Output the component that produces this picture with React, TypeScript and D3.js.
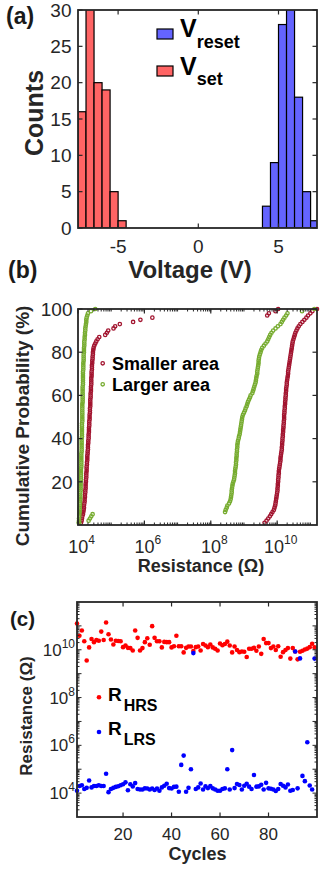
import React from "react";
import * as d3 from "d3";

const FONT = "'Liberation Sans', Arial, Helvetica, sans-serif";
const AXIS = "#262626";

// (a) switching voltage histogram, bin left edges in V, bin width 0.5 V
const setBinStart = [-7.5, -7, -6.5, -6, -5.5, -5];
const setCounts = [16, 40, 20, 19, 5, 1];
const resetBinStart = [4, 4.5, 5, 5.5, 6, 6.5, 7];
const resetCounts = [3, 9, 28, 35, 18, 5, 1];
const binWidth = 0.5;
const voltTicks = [-5, 0, 5];
const countTicks = [0, 5, 10, 15, 20, 25, 30];

// (b) cumulative distributions, sorted log10(R / ohm)
const smallerLRS = [
  4.09, 4.11, 4.12, 4.13, 4.15, 4.16, 4.17, 4.18, 4.18, 4.19,
  4.2, 4.2, 4.21, 4.21, 4.22, 4.22, 4.23, 4.23, 4.23, 4.24,
  4.24, 4.25, 4.25, 4.25, 4.26, 4.26, 4.26, 4.27, 4.27, 4.28,
  4.28, 4.28, 4.29, 4.29, 4.3, 4.3, 4.3, 4.31, 4.31, 4.32,
  4.32, 4.32, 4.33, 4.33, 4.33, 4.34, 4.34, 4.34, 4.35, 4.35,
  4.35, 4.36, 4.36, 4.36, 4.37, 4.37, 4.37, 4.37, 4.38, 4.38,
  4.38, 4.39, 4.39, 4.39, 4.4, 4.4, 4.4, 4.4, 4.41, 4.41,
  4.41, 4.42, 4.42, 4.42, 4.43, 4.43, 4.44, 4.44, 4.45, 4.45,
  4.46, 4.47, 4.49, 4.52, 4.55, 4.59, 4.64, 4.82, 4.87, 4.91,
  5.07, 5.12, 5.26, 5.66, 5.88, 6.24, 9.7, 9.75, 9.95, 10.03,
];
const smallerHRS = [
  9.62, 9.68, 9.73, 9.78, 9.82, 9.86, 9.9, 9.92, 9.94, 9.95,
  9.96, 9.97, 9.98, 9.99, 10.0, 10.01, 10.01, 10.02, 10.02, 10.03,
  10.03, 10.04, 10.04, 10.05, 10.05, 10.06, 10.07, 10.08, 10.09, 10.1,
  10.1, 10.11, 10.12, 10.13, 10.14, 10.14, 10.15, 10.15, 10.16, 10.16,
  10.17, 10.17, 10.18, 10.18, 10.19, 10.19, 10.2, 10.2, 10.21, 10.21,
  10.21, 10.22, 10.22, 10.23, 10.23, 10.24, 10.24, 10.25, 10.25, 10.26,
  10.26, 10.27, 10.27, 10.28, 10.29, 10.29, 10.3, 10.31, 10.32, 10.33,
  10.33, 10.34, 10.35, 10.36, 10.37, 10.38, 10.39, 10.4, 10.41, 10.42,
  10.43, 10.44, 10.45, 10.46, 10.47, 10.49, 10.51, 10.53, 10.55, 10.58,
  10.61, 10.65, 10.7, 10.76, 10.82, 10.88, 10.93, 11.0, 11.06, 11.2,
];
const largerLRS = [
  4.02, 4.03, 4.03, 4.04, 4.04, 4.05, 4.05, 4.05, 4.06, 4.06,
  4.06, 4.07, 4.07, 4.07, 4.07, 4.08, 4.08, 4.08, 4.08, 4.08,
  4.09, 4.09, 4.09, 4.09, 4.09, 4.09, 4.1, 4.1, 4.1, 4.1,
  4.1, 4.1, 4.1, 4.11, 4.11, 4.11, 4.11, 4.11, 4.11, 4.11,
  4.12, 4.12, 4.12, 4.12, 4.12, 4.12, 4.12, 4.13, 4.13, 4.13,
  4.13, 4.13, 4.13, 4.13, 4.13, 4.13, 4.14, 4.14, 4.14, 4.14,
  4.14, 4.14, 4.14, 4.14, 4.15, 4.15, 4.15, 4.15, 4.15, 4.15,
  4.15, 4.16, 4.16, 4.16, 4.16, 4.17, 4.17, 4.17, 4.17, 4.18,
  4.18, 4.18, 4.19, 4.19, 4.19, 4.2, 4.2, 4.21, 4.21, 4.22,
  4.22, 4.23, 4.24, 4.25, 4.25, 4.26, 4.28, 4.3, 4.39, 4.52,
];
const largerHRS = [
  4.04, 4.32, 4.36, 4.4, 4.44, 8.43, 8.45, 8.48, 8.5, 8.55,
  8.58, 8.6, 8.61, 8.62, 8.63, 8.63, 8.64, 8.65, 8.66, 8.68,
  8.7, 8.71, 8.72, 8.73, 8.73, 8.74, 8.75, 8.76, 8.76, 8.77,
  8.77, 8.78, 8.78, 8.79, 8.79, 8.8, 8.8, 8.81, 8.82, 8.84,
  8.85, 8.87, 8.88, 8.89, 8.9, 8.91, 8.92, 8.93, 8.94, 8.95,
  8.97, 9.0, 9.03, 9.05, 9.08, 9.1, 9.12, 9.15, 9.18, 9.2,
  9.25, 9.27, 9.29, 9.31, 9.33, 9.35, 9.36, 9.37, 9.38, 9.4,
  9.4, 9.41, 9.42, 9.43, 9.44, 9.44, 9.45, 9.46, 9.48, 9.5,
  9.52, 9.55, 9.6, 9.65, 9.7, 9.73, 9.76, 9.79, 9.83, 9.88,
  9.95, 10.02, 10.1, 10.14, 10.18, 10.22, 10.27, 10.31, 10.75, 11.12,
];
const probTicks = [20, 40, 60, 80, 100];
const resTickExp = [4, 6, 8, 10];

// (c) endurance, log10(R / ohm) per cycle starting at cycle 1
const hrsLog = [
  11.1, 10.59, 10.81, 10.36, 9.55, 10.1, 10.45, 10.32, 10.41, 10.38,
  10.76, 10.41, 11.14, 10.65, 10.43, 10.22, 10.38, 10.37, 10.36, 10.11,
  10.18, 10.08, 10.07, 9.97, 10.81, 10.5, 9.97, 10.07, 10.32, 10.48,
  10.21, 10.99, 10.5, 10.36, 10.36, 10.1, 10.33, 10.32, 10.32, 10.1,
  10.15, 10.59, 10.15, 10.15, 9.89, 10.08, 10.14, 10.14, 9.95, 10.11,
  10.14, 9.97, 10.24, 10.18, 10.11, 10.22, 10.1, 10.04, 9.97, 10.26,
  10.19, 10.24, 10.34, 10.18, 9.89, 10.14, 9.99, 9.9, 9.93, 9.92,
  9.7, 10.04, 10.04, 10.08, 9.96, 10.14, 9.83, 10.45, 10.28, 10.28,
  10.07, 10.14, 9.99, 10.15, 9.71, 9.9, 9.99, 10.07, 9.63, 10.07,
  9.93, 9.6, 9.92, 9.96, 10.01, 10.05, 10.11, 10.25, 10.1,
];
const lrsLog = [
  4.1, 4.3, 4.33, 4.17, 4.22, 4.53, 4.24, 4.3, 4.3, 4.33,
  4.3, 4.3, 4.81, 4.04, 4.17, 4.22, 4.26, 4.29, 4.33, 4.37,
  4.45, 4.12, 4.37, 4.28, 4.42, 4.17, 4.15, 4.15, 4.2, 4.19,
  4.15, 4.19, 4.13, 4.19, 4.1, 4.24, 4.31, 4.39, 4.21, 4.19,
  4.26, 4.27, 4.06, 5.18, 5.57, 4.06, 4.22, 5.0, 9.86, 4.17,
  4.24, 4.4, 4.15, 4.28, 4.21, 4.3, 4.2, 4.15, 4.1, 4.1,
  4.17, 4.2, 5.0, 4.15, 5.8, 4.21, 4.38, 4.34, 4.15, 4.31,
  4.39, 4.27, 4.17, 4.76, 4.27, 4.28, 4.35, 4.15, 4.43, 4.2,
  4.18, 4.15, 4.09, 4.17, 4.38, 4.31, 4.24, 4.36, 4.1, 4.13,
  9.93, 4.2, 9.64, 4.72, 4.5, 6.13, 4.32, 4.15, 9.63,
];
const cycleTicks = [20, 40, 60, 80];
const endTickExp = [4, 6, 8, 10];

function minorLog(lo: number, hi: number) {
  const out: number[] = [];
  for (let e = Math.floor(Math.log10(lo)); e <= Math.ceil(Math.log10(hi)); e++) {
    for (let k = 1; k <= 9; k++) {
      const v = k * Math.pow(10, e);
      if (v > lo * 1.0001 && v < hi * 0.9999) out.push(v);
    }
  }
  return out;
}

function Frame({ x0, x1, y0, y1 }: { x0: number; x1: number; y0: number; y1: number }) {
  return <rect x={x0} y={y0} width={x1 - x0} height={y1 - y0} fill="none" stroke={AXIS} strokeWidth={1.8} />;
}

function PanelA() {
  const x = d3.scaleLinear().domain([-7.5, 7.4]).range([78, 317]);
  const y = d3.scaleLinear().domain([0, 30]).range([228, 10]);
  const [x0, x1] = x.range();
  const [y1, y0] = y.range();
  const bar = (start: number, count: number, fill: string, key: string) => (
    <rect key={key} x={x(start)} y={y(count)} width={x(start + binWidth) - x(start)} height={y(0) - y(count)}
      fill={fill} stroke="#000" strokeWidth={1.2} />
  );
  return (
    <g>
      <clipPath id="clipA"><rect x={x0} y={y0} width={x1 - x0} height={y1 - y0} /></clipPath>
      <g clipPath="url(#clipA)">
        {setBinStart.map((s, i) => bar(s, setCounts[i], "#ff6464", "s" + i))}
        {resetBinStart.map((s, i) => bar(s, resetCounts[i], "#6464ff", "r" + i))}
      </g>
      <Frame x0={x0} x1={x1} y0={y0} y1={y1} />
      {voltTicks.map((t) => (
        <g key={t}>
          <line x1={x(t)} x2={x(t)} y1={y1} y2={y1 - 4.5} stroke={AXIS} strokeWidth={1.2} />
          <line x1={x(t)} x2={x(t)} y1={y0} y2={y0 + 4.5} stroke={AXIS} strokeWidth={1.2} />
          <text x={x(t)} y={253} textAnchor="middle" fontSize={19} fill={AXIS}>{t}</text>
        </g>
      ))}
      {countTicks.map((t) => (
        <g key={t}>
          <line x1={x0} x2={x0 + 4.5} y1={y(t)} y2={y(t)} stroke={AXIS} strokeWidth={1.2} />
          <line x1={x1} x2={x1 - 4.5} y1={y(t)} y2={y(t)} stroke={AXIS} strokeWidth={1.2} />
          <text x={71.5} y={y(t) + 6.8} textAnchor="end" fontSize={19} fill={AXIS}>{t}</text>
        </g>
      ))}
      <text x={43} y={113} transform="rotate(-90 43 113)" textAnchor="middle" fontSize={25} fontWeight="bold" fill={AXIS}>Counts</text>
      <text x={190} y={278} textAnchor="middle" fontSize={24} fontWeight="bold" fill={AXIS}>Voltage (V)</text>
      <text x={6} y={24} fontSize={23} fontWeight="bold" fill="#1a1a1a">(a)</text>
      {/* legend */}
      <rect x={157} y={29} width={16} height={10} fill="#6464ff" stroke="#000" strokeWidth={1.2} />
      <text x={180} y={37} fontSize={25} fontWeight="bold" fill="#000">V<tspan fontSize={18} dy={10.5}>reset</tspan></text>
      <rect x={157} y={66} width={16} height={10} fill="#ff6464" stroke="#000" strokeWidth={1.2} />
      <text x={180} y={75} fontSize={25} fontWeight="bold" fill="#000">V<tspan fontSize={18} dy={9.5}>set</tspan></text>
    </g>
  );
}

function PanelB() {
  const x = d3.scaleLog().domain([1e4, Math.pow(10, 11.2)]).range([78, 317]);
  const y = d3.scaleLinear().domain([0, 100]).range([525, 309]);
  const [x0, x1] = x.range();
  const [y1, y0] = y.range();
  const cdf = (arr: number[]) => arr.map((v, i) => ({ r: Math.pow(10, v), p: ((i + 1) / arr.length) * 100 }));
  const series = [
    { data: cdf(smallerLRS), color: "#A2142F" },
    { data: cdf(smallerHRS), color: "#A2142F" },
    { data: cdf(largerLRS), color: "#77AC30" },
    { data: cdf(largerHRS), color: "#77AC30" },
  ];
  const minors = minorLog(x.domain()[0], x.domain()[1]);
  return (
    <g>
      {series.map((s, si) => (
        <g key={si}>
          {s.data.map((d, i) => (
            <circle key={i} cx={x(d.r)} cy={y(d.p)} r={1.7} fill="none" stroke={s.color} strokeWidth={1.3} />
          ))}
        </g>
      ))}
      <Frame x0={x0} x1={x1} y0={y0} y1={y1} />
      {minors.map((v, i) => (
        <g key={i}>
          <line x1={x(v)} x2={x(v)} y1={y1} y2={y1 - 2.5} stroke={AXIS} strokeWidth={1} />
          <line x1={x(v)} x2={x(v)} y1={y0} y2={y0 + 2.5} stroke={AXIS} strokeWidth={1} />
        </g>
      ))}
      {resTickExp.map((e) => {
        const px = x(Math.pow(10, e));
        return (
          <g key={e}>
            <line x1={px} x2={px} y1={y1} y2={y1 - 4.5} stroke={AXIS} strokeWidth={1.2} />
            <line x1={px} x2={px} y1={y0} y2={y0 + 4.5} stroke={AXIS} strokeWidth={1.2} />
            <text x={px + 3.5} y={553} textAnchor="middle" fontSize={18} fill={AXIS}>
              10<tspan fontSize={12} dy={-9}>{e}</tspan>
            </text>
          </g>
        );
      })}
      {probTicks.map((t) => (
        <g key={t}>
          <line x1={x0} x2={x0 + 4.5} y1={y(t)} y2={y(t)} stroke={AXIS} strokeWidth={1.2} />
          <line x1={x1} x2={x1 - 4.5} y1={y(t)} y2={y(t)} stroke={AXIS} strokeWidth={1.2} />
          <text x={72.5} y={y(t) + 6.8} textAnchor="end" fontSize={19} fill={AXIS}>{t}</text>
        </g>
      ))}
      <text x={29} y={426} transform="rotate(-90 29 426)" textAnchor="middle" fontSize={19} fontWeight="bold" fill={AXIS}>Cumulative Probability (%)</text>
      <text x={201} y={572} textAnchor="middle" fontSize={18} fontWeight="bold" fill={AXIS}>Resistance (Ω)</text>
      <text x={8} y={278} fontSize={23} fontWeight="bold" fill="#1a1a1a">(b)</text>
      {/* legend */}
      <circle cx={102.7} cy={363.3} r={1.7} fill="none" stroke="#A2142F" strokeWidth={1.3} />
      <text x={112} y={370} fontSize={18} fontWeight="bold" fill="#000">Smaller area</text>
      <circle cx={102.7} cy={384.3} r={1.7} fill="none" stroke="#77AC30" strokeWidth={1.3} />
      <text x={112} y={391} fontSize={18} fontWeight="bold" fill="#000">Larger area</text>
    </g>
  );
}

function PanelC() {
  const x = d3.scaleLinear().domain([1, 100]).range([77, 317]);
  const y = d3.scaleLog().domain([1e3, 1e12]).range([817, 602]);
  const [x0, x1] = x.range();
  const [y1, y0] = y.range();
  const minors = minorLog(y.domain()[0], y.domain()[1]);
  return (
    <g>
      {hrsLog.map((v, i) => (
        <circle key={"h" + i} cx={x(i + 1)} cy={y(Math.pow(10, v))} r={2.3} fill="#ff0000" />
      ))}
      {lrsLog.map((v, i) => (
        <circle key={"l" + i} cx={x(i + 1)} cy={y(Math.pow(10, v))} r={2.3} fill="#0000ff" />
      ))}
      <Frame x0={x0} x1={x1} y0={y0} y1={y1} />
      {minors.map((v, i) => (
        <g key={i}>
          <line x1={x0} x2={x0 + (Math.log10(v) % 1 === 0 ? 4.5 : 2.5)} y1={y(v)} y2={y(v)} stroke={AXIS} strokeWidth={1} />
          <line x1={x1} x2={x1 - (Math.log10(v) % 1 === 0 ? 4.5 : 2.5)} y1={y(v)} y2={y(v)} stroke={AXIS} strokeWidth={1} />
        </g>
      ))}
      {endTickExp.map((e) => (
        <text key={e} x={75} y={y(Math.pow(10, e)) + 6} textAnchor="end" fontSize={17} fill={AXIS}>
          10<tspan fontSize={12} dy={-8}>{e}</tspan>
        </text>
      ))}
      {cycleTicks.map((t) => (
        <g key={t}>
          <line x1={x(t)} x2={x(t)} y1={y1} y2={y1 - 4.5} stroke={AXIS} strokeWidth={1.2} />
          <line x1={x(t)} x2={x(t)} y1={y0} y2={y0 + 4.5} stroke={AXIS} strokeWidth={1.2} />
          <text x={x(t)} y={840} textAnchor="middle" fontSize={17} fill={AXIS}>{t}</text>
        </g>
      ))}
      <text x={31.5} y={716} transform="rotate(-90 31.5 716)" textAnchor="middle" fontSize={17} fontWeight="bold" fill={AXIS}>Resistance (Ω)</text>
      <text x={197.5} y={860} textAnchor="middle" fontSize={18} fontWeight="bold" fill={AXIS}>Cycles</text>
      <text x={10} y={626} fontSize={20.5} fontWeight="bold" fill="#1a1a1a">(c)</text>
      {/* legend */}
      <circle cx={99} cy={697.3} r={2.3} fill="#ff0000" />
      <text x={108} y={701} fontSize={19} fontWeight="bold" fill="#000">R<tspan dx={2} dy={9.5} fontSize={16}>HRS</tspan></text>
      <circle cx={99} cy={732} r={2.3} fill="#0000ff" />
      <text x={108} y={735} fontSize={19} fontWeight="bold" fill="#000">R<tspan dx={2} dy={10} fontSize={16}>LRS</tspan></text>
    </g>
  );
}

export default function App() {
  return (
    <svg width={320} height={873} style={{ position: "absolute", left: 0, top: 0, background: "#fff" }}
      fontFamily={FONT}>
      <rect width={320} height={873} fill="#fff" />
      <PanelA />
      <PanelB />
      <PanelC />
    </svg>
  );
}
